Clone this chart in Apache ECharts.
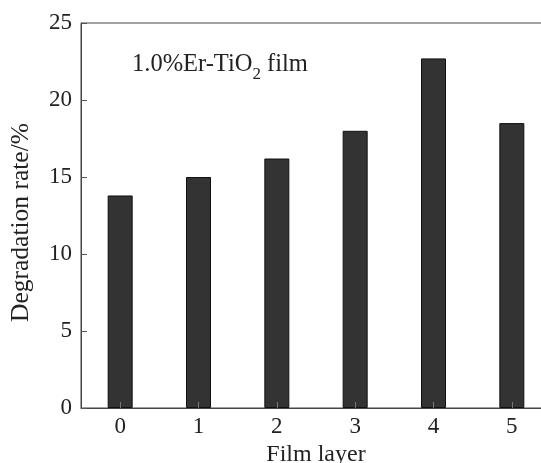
<!DOCTYPE html>
<html>
<head>
<meta charset="utf-8">
<script src="https://cdn.jsdelivr.net/npm/echarts@6/dist/echarts.min.js"></script>
<style>
html,body{margin:0;padding:0;background:#fff;}
#chart{width:541px;height:463px;}
</style>
</head>
<body>
<div id="chart"></div>
<script>
const categories = ['0', '1', '2', '3', '4', '5'];
const degradationRate = [13.8, 15.0, 16.2, 18.0, 22.7, 18.5];
const yTicks = [0, 5, 10, 15, 20, 25];

const FONT = 'Liberation Serif';
const chart = echarts.init(document.getElementById('chart'), null, {renderer: 'canvas'});
chart.setOption({
  animation: false,
  backgroundColor: '#fff',
  grid: {left: 81, top: 23, width: 470, height: 385, outerBoundsMode: 'none', containLabel: false,
    show: true, borderColor: '#444', borderWidth: 1, backgroundColor: 'transparent'},
  xAxis: {
    type: 'category',
    data: categories,
    z: 5,
    name: 'Film layer',
    nameLocation: 'middle',
    nameGap: 32,
    nameTextStyle: {fontFamily: FONT, fontSize: 24, color: '#222'},
    axisLine: {show: true, lineStyle: {color: '#444', width: 1}},
    axisTick: {show: true, inside: true, alignWithLabel: true, length: 6, lineStyle: {color: '#777'}},
    axisLabel: {fontFamily: FONT, fontSize: 23, color: '#222', margin: 7}
  },
  yAxis: {
    type: 'value',
    min: 0,
    max: 25,
    interval: 5,
    z: 5,
    name: 'Degradation rate/%',
    nameLocation: 'middle',
    nameGap: 47,
    nameRotate: 90,
    nameTextStyle: {fontFamily: FONT, fontSize: 25.5, color: '#222', padding: [0, 0, 0, -14]},
    splitLine: {show: false},
    axisLine: {show: true, lineStyle: {color: '#444', width: 1}},
    axisTick: {show: true, inside: true, length: 6, lineStyle: {color: '#555'}},
    axisLabel: {fontFamily: FONT, fontSize: 23, color: '#222', margin: 9,
      formatter: function (v) { return yTicks.indexOf(v) >= 0 ? String(v) : ''; }}
  },
  series: [{
    type: 'bar',
    data: degradationRate,
    barWidth: 25,
    itemStyle: {color: '#333333', borderColor: '#111', borderWidth: 1}
  }],
  graphic: [{
    type: 'text',
    left: 132,
    top: 52,
    style: {
      text: '{a|1.0%Er-TiO}{s|2}{a| film}',
      rich: {
        a: {fontFamily: FONT, fontSize: 24.5, fill: '#222', verticalAlign: 'bottom', lineHeight: 28},
        s: {fontFamily: FONT, fontSize: 17, fill: '#222', padding: [0, 0, -6, 0], verticalAlign: 'bottom', lineHeight: 28}
      }
    }
  }]
});
</script>
</body>
</html>
